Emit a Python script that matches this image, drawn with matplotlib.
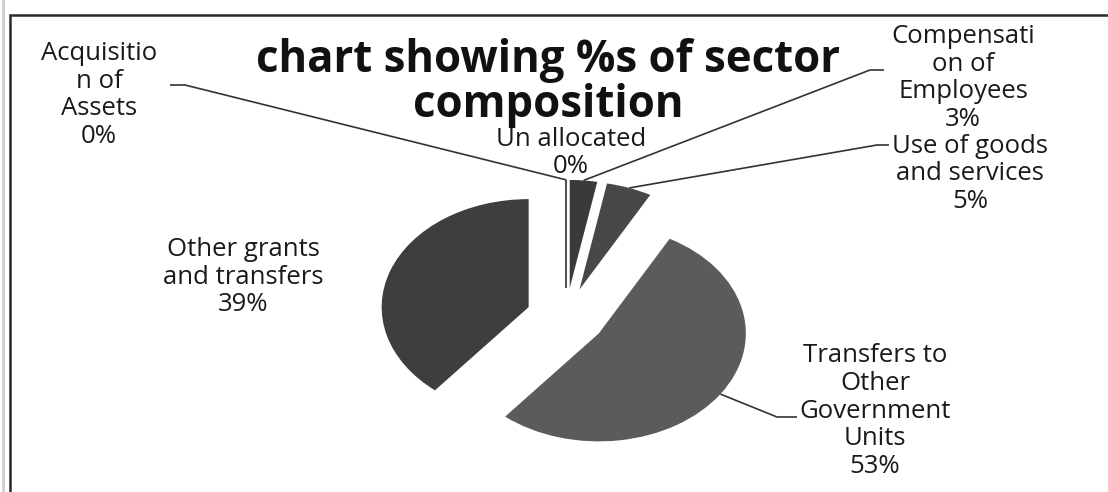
import numpy as np
import matplotlib
matplotlib.use("Agg")
import matplotlib.pyplot as plt
from matplotlib.patches import Rectangle

# ── Data ──────────────────────────────────────────────────────────────────────
categories = ["Compensation of Employees", "Use of goods and services",
              "Transfers to Other Government Units", "Other grants and transfers",
              "Acquisition of Assets", "Un allocated"]
shares = [3, 5, 53, 39, 0, 0]
slice_colors = ["#3a3a3a", "#484848", "#5b5b5b", "#3e3e3e", "#555555", "#555555"]
label_texts = ["Compensati\non of\nEmployees\n3%",
               "Use of goods\nand services\n5%",
               "Transfers to\nOther\nGovernment\nUnits\n53%",
               "Other grants\nand transfers\n39%",
               "Acquisitio\nn of\nAssets\n0%",
               "Un allocated\n0%"]

# ── Layout (pixel positions in the 1108x492 picture) ──────────────────────────
W, H = 1108, 492
CX, CY = 566, 317      # pie centre
RX, RY = 147, 108      # stretched pie radii
label_pos = [(963, 78), (970, 174), (875, 411), (243, 277), (99, 95), (571, 153)]
# (label end, elbow) of the leader lines, None = no leader
leaders = [((884, 70), (870, 70)), ((889, 145), (877, 145)),
           ((797, 417), (777, 417)), None, ((170, 85), (185, 85)), None]

FONT = ["Open Sans", "DejaVu Sans"]

fig = plt.figure(figsize=(W / 100, H / 100), dpi=100)
ax = fig.add_axes([0, 0, 1, 1])

wedges, _ = ax.pie(shares, colors=slice_colors, explode=[0.27] * len(shares),
                   startangle=90, counterclock=False,
                   wedgeprops=dict(linewidth=0))
for w, v in zip(wedges, shares):
    if v == 0:
        w.set_edgecolor("#505050")
        w.set_linewidth(1.4)

ax.set_aspect("auto")
ax.set_xlim(-CX / RX, (W - CX) / RX)
ax.set_ylim(-(H - CY) / RY, CY / RY)
ax.axis("off")


def to_data(px, py):
    return (px - CX) / RX, (CY - py) / RY


for w, lead in zip(wedges, leaders):
    if lead is None:
        continue
    th = np.deg2rad((w.theta1 + w.theta2) / 2)
    cx, cy = w.center
    tip = (cx + w.r * np.cos(th), cy + w.r * np.sin(th))
    p0 = to_data(*lead[0])
    p1 = to_data(*lead[1])
    ax.plot([p0[0], p1[0], tip[0]], [p0[1], p1[1], tip[1]],
            color="#333333", linewidth=1.2, solid_capstyle="butt")

for txt, (px, py) in zip(label_texts, label_pos):
    fig.text(px / W, 1 - py / H, txt, ha="center", va="center",
             fontsize=18.5, family=FONT, color="#1a1a1a", linespacing=1.15)

fig.text(548 / W, 1 - 83 / H, "chart showing %s of sector\ncomposition",
         ha="center", va="center", fontsize=31.5, fontweight="bold",
         family=FONT, color="#111111", linespacing=1.0)

# scanned frame edges
fig.patches.append(Rectangle((10 / W, -0.1), 1.2, 1 - 15 / H + 0.1,
                             transform=fig.transFigure, fill=False,
                             edgecolor="#2a2a2a", linewidth=1.8))
fig.patches.append(Rectangle((3 / W, -0.1), 0.0, 1.2,
                             transform=fig.transFigure, fill=False,
                             edgecolor="#d0d0d0", linewidth=2))

fig.savefig("out.png", dpi=100, facecolor="white")
